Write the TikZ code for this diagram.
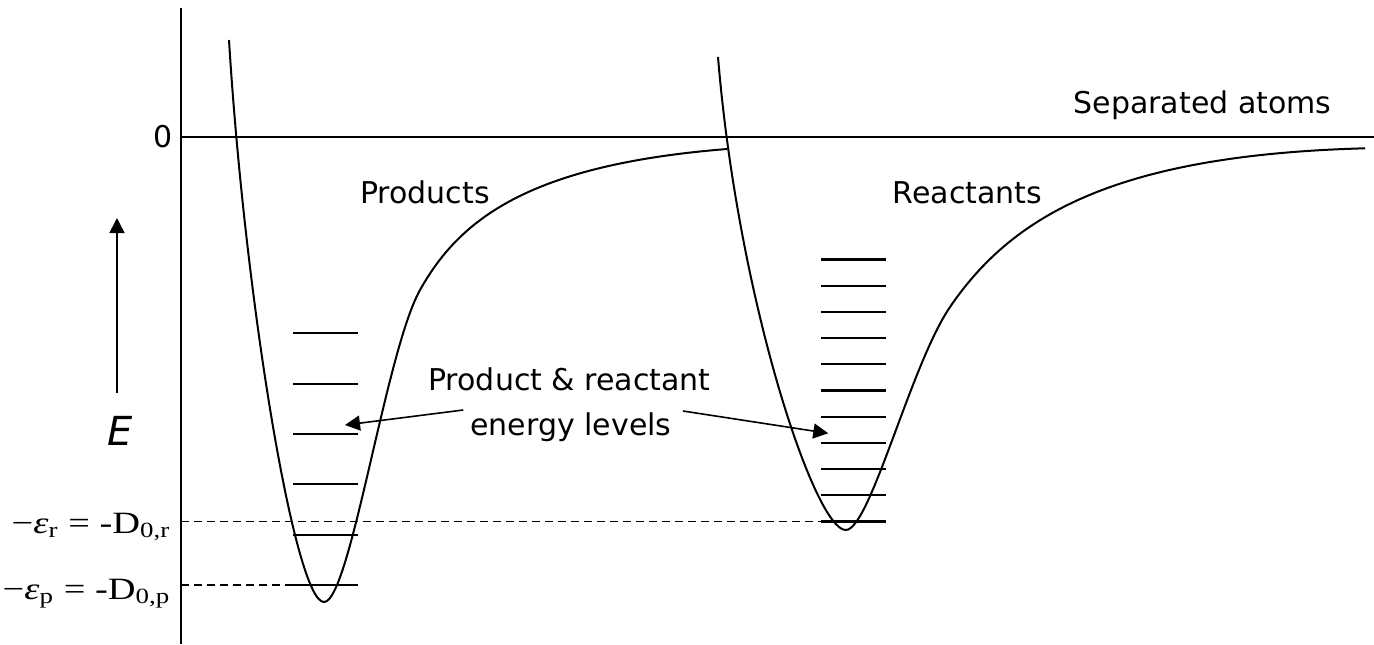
\documentclass[tikz,border=0pt]{standalone}
\usepackage{fontspec}
\setmainfont{DejaVu Sans}
\newfontfamily\eqfont{Liberation Serif}
\usetikzlibrary{arrows.meta}

\tikzset{
    curve/.style={line width=1pt},
    level/.style={line width=1.1pt},
    dashline/.style={line width=0.7pt, dash pattern=on 4pt off 2.5pt},
    tip/.style={-{Triangle[length=7.5pt, width=7.5pt]}, line width=0.8pt},
    lbl/.style={anchor=base, inner sep=0pt, font=\fontsize{15}{18}\selectfont},
    eqlbl/.style={anchor=base east, inner sep=0pt, font=\eqfont\fontsize{15.5}{18}\selectfont}
}
\newcommand{\eqwide}[1]{\scalebox{1.24}[1]{#1}}

\begin{document}
\begin{tikzpicture}[x=0.5pt, y=-0.5pt]
    \useasboundingbox (0,0) rectangle (1374,644);

    \coordinate (top) at (181,8);
    \coordinate (bot) at (181,644);
    \coordinate (zero) at (181,137);
    \coordinate (far) at (1374,137);
    \draw[line width=0.8pt] (bot) -- (top);
    \draw[line width=0.8pt] (zero) -- (far);
    \node[lbl, anchor=east] (zlbl) at (173,137) {0};

    \coordinate (ebase) at (117,393);
    \coordinate (etop) at (117,218);
    \draw[tip] (ebase) -- (etop);
    \node[lbl, font=\fontsize{20}{24}\selectfont\itshape] (elbl) at (120,445) {E};

    \draw[curve] (229,40) .. controls (245,300) and (295,602) .. (324,602)
      .. controls (350,602) and (385.7,351) .. (420,290)
      .. controls (459,220.4) and (527,165) .. (727,149);
    \draw[curve] (718,57) .. controls (738,300) and (815,530) .. (845.7,530)
      .. controls (870,530) and (910.5,364.8) .. (950,307)
      .. controls (1012,216) and (1115,155) .. (1365,148.3);

    \foreach \y in {333,384,434,484,535,585}
      \draw[level] (293,\y) -- (357.7,\y);
    \foreach \i in {0,...,10}
      \draw[level] (821,{521.5-26.2*\i}) -- (886,{521.5-26.2*\i});

    \coordinate (rlev) at (821,521.5);
    \coordinate (plev) at (293,585);
    \draw[dashline] (181,521.5) -- (rlev);
    \draw[dashline] (181,585) -- (plev);
    \node[eqlbl] (epsr) at (171,533) {\eqwide{−\textit{ε}\textsubscript{r} = -D\textsubscript{0,r}}};
    \node[eqlbl] (epsp) at (171,599) {\eqwide{−\textit{ε}\textsubscript{p} = -D\textsubscript{0,p}}};

    \node[lbl] (sep) at (1202.5,113) {Separated atoms};
    \node[lbl] (prod) at (425,203.3) {Products};
    \node[lbl] (reac) at (967.5,203.3) {Reactants};
    \node[lbl] (lev1) at (569.5,390) {Product \& reactant};
    \node[lbl] (lev2) at (571,435) {energy levels};

    \coordinate (ptail) at (463.3,410);
    \coordinate (ptip) at (345,425);
    \coordinate (rtail) at (683,411);
    \coordinate (rtip) at (828.3,433.3);
    \draw[tip] (ptail) -- (ptip);
    \draw[tip] (rtail) -- (rtip);
\end{tikzpicture}
\end{document}
